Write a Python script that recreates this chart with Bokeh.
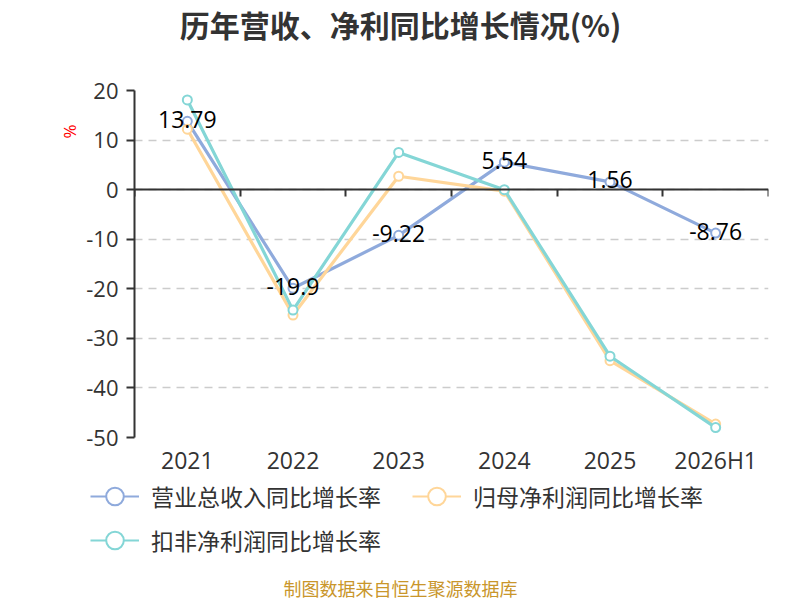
from bokeh.plotting import figure
from bokeh.layouts import column
from bokeh.models import (ColumnDataSource, LinearAxis, FixedTicker, Range1d, Legend,
                          LegendItem, Title, Label)
from bokeh.core.properties import value
from bokeh.embed import file_html
from bokeh.resources import INLINE

categories = ["2021", "2022", "2023", "2024", "2025", "2026H1"]
revenue_growth = [13.79, -19.9, -9.22, 5.54, 1.56, -8.76]
net_profit_growth = [12.2, -25.3, 2.7, -0.3, -34.5, -47.3]
deducted_profit_growth = [18.1, -24.3, 7.5, 0.0, -33.6, -48.0]
series_names = ["营业总收入同比增长率", "归母净利润同比增长率", "扣非净利润同比增长率"]
y_ticks = [-50, -40, -30, -20, -10, 0, 10, 20]
title_text = "历年营收、净利同比增长情况(%)"
source_note = "制图数据来自恒生聚源数据库"

colors = ["#8FAADC", "#FFD699", "#84D6D6"]
CJK = "Noto Sans CJK SC"
LAT = "Open Sans"

xs = [i + 0.5 for i in range(len(categories))]
boundaries = list(range(len(categories) + 1))


def blank(h):
    f = figure(width=800, height=h, output_backend="svg", toolbar_location=None,
               x_range=Range1d(0, 1), y_range=Range1d(0, 1), x_axis_type=None, y_axis_type=None,
               min_border=0, min_border_left=0, min_border_right=0, min_border_top=0,
               min_border_bottom=0, frame_align=False,
               outline_line_color=None, background_fill_color="white",
               border_fill_color="white")
    f.xgrid.grid_line_color = None
    f.ygrid.grid_line_color = None
    return f


# ---- title strip ----
top = blank(60)
top.add_layout(Label(x=400, y=37, x_units="screen", y_units="screen", text=title_text,
                     text_font=CJK, text_font_size="30px", text_font_style="bold",
                     text_color="#333333", text_align="center", text_baseline="middle"))

# ---- main chart ----
p = figure(width=800, height=418, output_backend="svg", toolbar_location=None,
           x_range=Range1d(0, len(categories)), y_range=Range1d(min(y_ticks), max(y_ticks)),
           min_border_left=134, min_border_right=32, min_border_top=30, min_border_bottom=38,
           frame_align=False,
           outline_line_color=None, background_fill_color="white", border_fill_color="white")

xa = p.xaxis[0]
xa.ticker = FixedTicker(ticks=xs)
xa.major_label_overrides = {x: c for x, c in zip(xs, categories)}
xa.axis_line_color = None
xa.major_tick_line_color = None
xa.major_tick_out = 0
xa.major_tick_in = 0
xa.minor_tick_line_color = None
xa.minor_tick_out = 0
xa.major_label_text_font = LAT
xa.major_label_text_font_size = "23px"
xa.major_label_text_color = "#333333"
xa.major_label_standoff = 6

zx = LinearAxis(fixed_location=0, ticker=FixedTicker(ticks=boundaries))
zx.axis_line_color = "#333333"
zx.axis_line_width = 2
zx.major_tick_line_color = "#333333"
zx.major_tick_line_width = 2
zx.major_tick_out = 0
zx.major_tick_in = 7
zx.minor_tick_line_color = None
zx.minor_tick_out = 0
zx.major_label_text_font_size = "0px"
zx.major_label_text_alpha = 0
zx.major_label_standoff = 0
p.add_layout(zx, "above")

ya = p.yaxis[0]
ya.ticker = FixedTicker(ticks=y_ticks)
ya.major_label_overrides = {t: str(t) for t in y_ticks}
ya.axis_line_color = "#333333"
ya.axis_line_width = 2
ya.major_tick_line_color = "#333333"
ya.major_tick_line_width = 2
ya.major_tick_out = 8
ya.major_tick_in = 0
ya.minor_tick_line_color = None
ya.minor_tick_out = 0
ya.major_label_text_font = LAT
ya.major_label_text_font_size = "22px"
ya.major_label_text_color = "#333333"
ya.major_label_standoff = 8

p.xgrid.grid_line_color = None
p.ygrid.ticker = FixedTicker(ticks=y_ticks)
p.ygrid.grid_line_color = "#cccccc"
p.ygrid.grid_line_dash = "8 6"
p.ygrid.grid_line_width = 1.5

p.add_layout(Title(text="%", align="right", offset=34, standoff=6,
                   text_font=LAT, text_font_size="17px", text_font_style="normal",
                   text_color="#ff0000"), "left")

src = ColumnDataSource(dict(x=xs, rev=revenue_growth, net=net_profit_growth,
                            ded=deducted_profit_growth,
                            lab=[str(v) for v in revenue_growth]))

for col, color in zip(["rev", "net", "ded"], colors):
    p.line("x", col, source=src, line_color=color, line_width=3.2)
    p.scatter("x", col, source=src, size=9, fill_color="white", line_color=color, line_width=2)

p.text("x", "rev", text="lab", source=src, text_align="center", text_baseline="middle",
       text_font=value(LAT), text_font_size="23px", text_color="#000000", y_offset=-2)

# ---- legend + source strip ----
bot = blank(122)
items = []
for color, name in zip(colors, series_names):
    dummy = ColumnDataSource(dict(x=[float("nan")], y=[float("nan")]))
    lg_line = bot.line("x", "y", source=dummy, line_color=color, line_width=2)
    lg_mark = bot.scatter("x", "y", source=dummy, size=22, fill_color="white",
                          line_color=color, line_width=2)
    items.append(LegendItem(label=name, renderers=[lg_line, lg_mark]))

legend = Legend(items=items, orientation="horizontal", ncols=2,
                location=(90, 38), glyph_width=49, glyph_height=44, label_standoff=12,
                label_width=261, spacing=0, padding=0, margin=0, border_line_color=None,
                background_fill_alpha=0, label_text_font=CJK, label_text_font_size="23px",
                label_text_color="#333333", label_height=44)
bot.add_layout(legend, "center")
bot.add_layout(Label(x=400, y=13, x_units="screen", y_units="screen", text=source_note,
                     text_font=CJK, text_font_size="18px", text_color="#C9962B",
                     text_align="center", text_baseline="middle"))

layout = column(top, p, bot, spacing=0)
open("out.html", "w").write(file_html(layout, INLINE))
